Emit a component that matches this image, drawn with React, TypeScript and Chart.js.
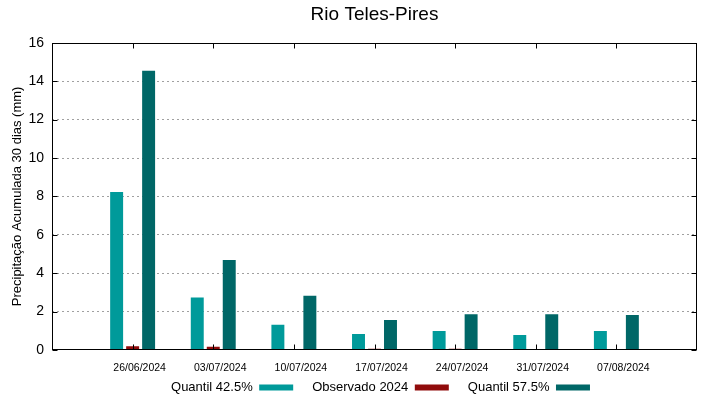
import { useEffect, useRef } from 'react';
import { Chart, registerables } from 'chart.js';

Chart.register(...registerables);

const categories = ['26/06/2024', '03/07/2024', '10/07/2024', '17/07/2024', '24/07/2024', '31/07/2024', '07/08/2024'];
const quantil425 = [8.23, 2.74, 1.32, 0.83, 0.99, 0.78, 0.99];
const observado2024 = [0.19, 0.17, 0.05, 0.07, 0.07, 0, 0];
const quantil575 = [14.54, 4.69, 2.83, 1.56, 1.86, 1.86, 1.82];
const yTickValues = [0, 2, 4, 6, 8, 10, 12, 14, 16];

const FONT = "'Liberation Sans', Arial, Helvetica, sans-serif";

// pad the category axis with an empty slot on each side (gnuplot-like x range)
const labels = ['', ...categories, ''];
const pad = (arr: number[]) => [null, ...arr, null];

const framePlugin = {
  id: 'frame',
  afterLayout(chart: any) {
    const lg = chart.legend;
    if (lg) {
      lg.left += 6;
      lg.right += 6;
      lg.top -= 12;
      lg.bottom = chart.height;
    }
  },
  afterDatasetsDraw(chart: any) {
    const { ctx, chartArea } = chart;
    const xs = chart.scales.x;
    const ys = chart.scales.y;
    const l = Math.round(chartArea.left) + 0.5;
    const r = Math.round(chartArea.right) - 0.5;
    const t = Math.round(chartArea.top) + 0.5;
    const b = Math.round(chartArea.bottom) - 0.5;
    ctx.save();
    ctx.strokeStyle = '#000';
    ctx.lineWidth = 1;
    ctx.beginPath();
    const tl = 5;
    yTickValues.forEach((v) => {
      const y = Math.round(ys.getPixelForValue(v)) + 0.5;
      ctx.moveTo(l, y);
      ctx.lineTo(l + tl, y);
      ctx.moveTo(r, y);
      ctx.lineTo(r - tl, y);
    });
    categories.forEach((_, i) => {
      const x = Math.round(xs.getPixelForValue(i + 1)) + 0.5;
      ctx.moveTo(x, b);
      ctx.lineTo(x, b - tl);
      ctx.moveTo(x, t);
      ctx.lineTo(x, t + tl);
    });
    ctx.stroke();
    ctx.strokeRect(l, t, r - l, b - t);
    ctx.restore();
  },
};

export default function App() {
  const ref = useRef<HTMLCanvasElement | null>(null);

  useEffect(() => {
    document.body.style.margin = '0';
    if (!ref.current) return;
    Chart.defaults.font.family = FONT;
    const chart = new Chart(ref.current, {
      type: 'bar',
      data: {
        labels,
        datasets: [
          {
            label: 'Quantil 42.5%',
            data: pad(quantil425),
            backgroundColor: '#009a9a',
            borderWidth: 0,
          },
          {
            label: 'Observado 2024',
            data: pad(observado2024),
            backgroundColor: '#900b0b',
            borderWidth: 0,
          },
          {
            label: 'Quantil 57.5%',
            data: pad(quantil575),
            backgroundColor: '#006767',
            borderWidth: 0,
          },
        ],
      },
      options: {
        responsive: false,
        animation: false,
        layout: { padding: { left: 0, right: 22, top: 0, bottom: 0 } },
        datasets: {
          bar: { categoryPercentage: 0.595, barPercentage: 0.81 },
        },
        plugins: {
          title: {
            display: true,
            text: 'Rio Teles-Pires',
            color: '#000',
            fullSize: false,
            font: { size: 19, weight: 'normal', family: FONT },
            padding: { top: 3, bottom: 17 },
          },
          legend: {
            position: 'bottom',
            fullSize: false,
            rtl: true,
            reverse: true,
            maxHeight: 25,
            labels: {
              boxWidth: 34,
              boxHeight: 6,
              color: '#000',
              padding: 19,
              font: { size: 13, family: FONT },
            },
          },
          tooltip: { enabled: false },
        },
        scales: {
          x: {
            type: 'category',
            offset: false,
            grid: { display: false },
            border: { display: false },
            ticks: {
              autoSkip: false,
              maxRotation: 0,
              minRotation: 0,
              labelOffset: 7,
              padding: 4,
              color: '#000',
              font: { size: 10.5, family: FONT },
            },
            afterFit: (s: any) => {
              s.height = 24;
            },
          },
          y: {
            min: 0,
            max: 16,
            ticks: {
              stepSize: 2,
              padding: 8,
              color: '#000',
              font: { size: 14, family: FONT },
            },
            grid: {
              drawTicks: false,
              color: (c: any) => (c.tick && (c.tick.value === 0 || c.tick.value === 16) ? 'rgba(0,0,0,0)' : '#a0a0a0'),
              lineWidth: 1,
            },
            border: { display: false, dash: [2, 3] },
            title: {
              display: true,
              text: 'Precipitação Acumulada 30 dias (mm)',
              color: '#000',
              font: { size: 13, family: FONT },
              padding: { top: 10, bottom: 0 },
            },
            afterFit: (s: any) => {
              s.width = 52;
            },
          },
        },
      },
      plugins: [framePlugin],
    });
    return () => chart.destroy();
  }, []);

  return (
    <div style={{ width: 719, height: 399 }}>
      <canvas ref={ref} width={719} height={399} />
    </div>
  );
}
